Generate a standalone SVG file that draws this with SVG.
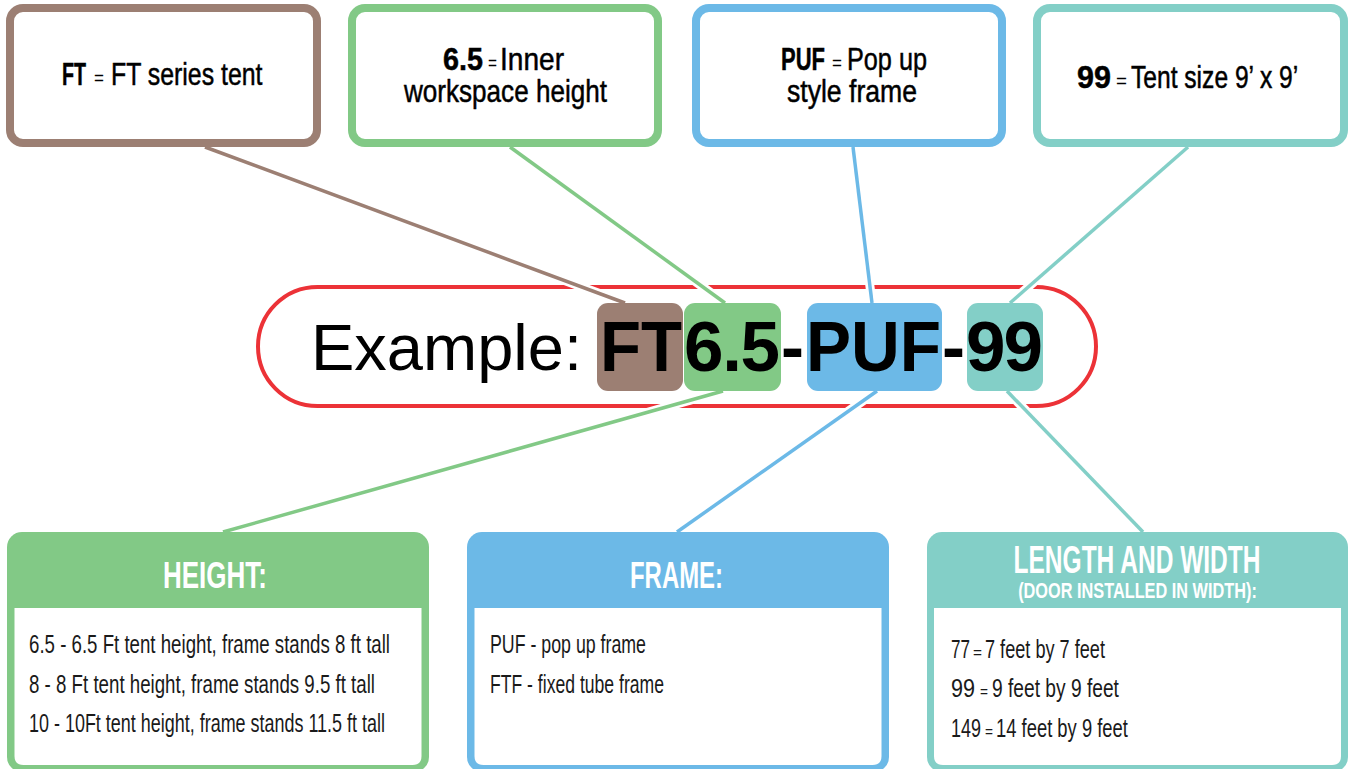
<svg xmlns="http://www.w3.org/2000/svg" width="1353" height="769" viewBox="0 0 1353 769">
<style>
.bx{fill:#fff;stroke-width:8}
.tt{font-family:"Liberation Sans",Arial,sans-serif;font-size:32px;fill:#000;stroke:#000;stroke-width:0.5}
.b{font-weight:700}
.eq{font-size:20px;stroke:none}
.code{font-family:"Liberation Sans",Arial,sans-serif;font-size:71px;font-weight:700;fill:#000}
.hd{font-family:"Liberation Sans",Arial,sans-serif;font-weight:700;fill:#fff;text-anchor:middle}
.bt{font-family:"Liberation Sans",Arial,sans-serif;font-size:25px;fill:#1a1a1a}
.be{font-family:"Liberation Sans",Arial,sans-serif;font-size:17px;fill:#1a1a1a}
.halo{stroke:#fff;stroke-width:9;fill:none}
.ln{stroke-width:3.5;fill:none}
</style>
<rect width="1353" height="769" fill="#fff"/>

<g id="pill">
<rect x="258" y="287" width="838" height="119" rx="59.5" fill="#fff" stroke="#EC3237" stroke-width="4"/>
</g>

<g id="connectors">
<g class="halo">
<line x1="205" y1="147" x2="625" y2="303"/>
<line x1="510" y1="147" x2="725" y2="303"/>
<line x1="853" y1="147" x2="872" y2="303"/>
<line x1="1188" y1="147" x2="1010" y2="303"/>
<line x1="723" y1="391" x2="223" y2="532"/>
<line x1="877" y1="391" x2="677" y2="532"/>
<line x1="1007" y1="391" x2="1143" y2="532"/>
</g>
<line class="ln" stroke="#9C7F73" x1="205" y1="147" x2="625" y2="303"/>
<line class="ln" stroke="#82C986" x1="510" y1="147" x2="725" y2="303"/>
<line class="ln" stroke="#6CB9E7" x1="853" y1="147" x2="872" y2="303"/>
<line class="ln" stroke="#83CFC7" x1="1188" y1="147" x2="1010" y2="303"/>
<line class="ln" stroke="#82C986" x1="723" y1="391" x2="223" y2="532"/>
<line class="ln" stroke="#6CB9E7" x1="877" y1="391" x2="677" y2="532"/>
<line class="ln" stroke="#83CFC7" x1="1007" y1="391" x2="1143" y2="532"/>
</g>

<g id="example">
<text x="311" y="370" font-family="'Liberation Sans',Arial,sans-serif" font-size="65" fill="#000">Example:</text>
<rect x="597" y="303" width="86" height="88" rx="11" fill="#9C7F73"/>
<rect x="684" y="303" width="97" height="88" rx="11" fill="#82C986"/>
<rect x="807" y="303" width="135" height="88" rx="11" fill="#6CB9E7"/>
<rect x="967" y="303" width="76" height="88" rx="11" fill="#83CFC7"/>
<text class="code" x="600" y="371" textLength="82" lengthAdjust="spacingAndGlyphs">FT</text>
<text class="code" x="684" y="371" textLength="96" lengthAdjust="spacing">6.5</text>
<text class="code" x="781" y="371" textLength="23" lengthAdjust="spacingAndGlyphs">-</text>
<text class="code" x="806" y="371" textLength="135" lengthAdjust="spacingAndGlyphs">PUF</text>
<text class="code" x="942" y="371" textLength="23" lengthAdjust="spacingAndGlyphs">-</text>
<text class="code" x="966" y="371" textLength="77" lengthAdjust="spacing">99</text>
</g>

<g id="box-ft">
<rect class="bx" x="10" y="8" width="307" height="135" rx="13" stroke="#9C7F73"/>
<text class="tt b" transform="translate(62 85) scale(0.614 1)">FT</text>
<text class="tt eq" transform="translate(94 85) scale(0.855 1)">=</text>
<text class="tt" transform="translate(111 85) scale(0.777 1)">FT series tent</text>
</g>

<g id="box-height-top">
<rect class="bx" x="352" y="8" width="306" height="135" rx="13" stroke="#82C986"/>
<text class="tt b" transform="translate(443 70) scale(0.899 1)">6.5</text>
<text class="tt eq" transform="translate(488 70) scale(0.77 1)">=</text>
<text class="tt" transform="translate(500 70) scale(0.878 1)">Inner</text>
<text class="tt" transform="translate(404 102) scale(0.815 1)">workspace height</text>
</g>

<g id="box-puf">
<rect class="bx" x="696" y="8" width="306" height="135" rx="13" stroke="#6CB9E7"/>
<text class="tt b" transform="translate(781 70) scale(0.6875 1)">PUF</text>
<text class="tt eq" transform="translate(832 70) scale(0.855 1)">=</text>
<text class="tt" transform="translate(847 70) scale(0.789 1)">Pop up</text>
<text class="tt" transform="translate(787 102) scale(0.831 1)">style frame</text>
</g>

<g id="box-size">
<rect class="bx" x="1037" y="8" width="307" height="135" rx="13" stroke="#83CFC7"/>
<text class="tt b" transform="translate(1077 88) scale(0.955 1)">99</text>
<text class="tt eq" transform="translate(1116 88) scale(0.94 1)">=</text>
<text class="tt" transform="translate(1131 88) scale(0.769 1)">Tent size 9’ x 9’</text>
</g>

<g id="panel-height">
<rect x="7" y="532" width="422" height="240" rx="15" fill="#82C986"/>
<path d="M14.5 608 H421.5 V756 Q421.5 765 412.5 765 H23.5 Q14.5 765 14.5 756 Z" fill="#fff"/>
<text class="hd" x="215" y="588" font-size="36" textLength="104" lengthAdjust="spacingAndGlyphs">HEIGHT:</text>
<text class="bt" x="29" y="653" textLength="361" lengthAdjust="spacingAndGlyphs">6.5 - 6.5 Ft tent height, frame stands 8 ft tall</text>
<text class="bt" x="29" y="693" textLength="346" lengthAdjust="spacingAndGlyphs">8 - 8 Ft tent height, frame stands 9.5 ft tall</text>
<text class="bt" x="29" y="732" textLength="356" lengthAdjust="spacingAndGlyphs">10 - 10Ft tent height, frame stands 11.5 ft tall</text>
</g>

<g id="panel-frame">
<rect x="467" y="532" width="422" height="240" rx="15" fill="#6CB9E7"/>
<path d="M474.5 608 H881.5 V756 Q881.5 765 872.5 765 H483.5 Q474.5 765 474.5 756 Z" fill="#fff"/>
<text class="hd" x="676.5" y="588" font-size="36" textLength="93" lengthAdjust="spacingAndGlyphs">FRAME:</text>
<text class="bt" x="490" y="653" textLength="156" lengthAdjust="spacingAndGlyphs">PUF - pop up frame</text>
<text class="bt" x="490" y="693" textLength="174" lengthAdjust="spacingAndGlyphs">FTF - fixed tube frame</text>
</g>

<g id="panel-size">
<rect x="927" y="532" width="421" height="240" rx="15" fill="#83CFC7"/>
<path d="M934 608 H1341 V756 Q1341 765 1332 765 H943 Q934 765 934 756 Z" fill="#fff"/>
<text class="hd" font-size="38" transform="translate(1137 573) scale(0.6455 1)">LENGTH AND WIDTH</text>
<text class="hd" font-size="22" transform="translate(1137.5 598) scale(0.741 1)">(DOOR INSTALLED IN WIDTH):</text>
<text class="bt" transform="translate(951 658) scale(0.683 1)">77</text>
<text class="be" transform="translate(973 658) scale(0.906 1)">=</text>
<text class="bt" transform="translate(985 658) scale(0.7255 1)">7 feet by 7 feet</text>
<text class="bt" transform="translate(951 697) scale(0.863 1)">99</text>
<text class="be" transform="translate(980 697) scale(0.806 1)">=</text>
<text class="bt" transform="translate(992 697) scale(0.768 1)">9 feet by 9 feet</text>
<text class="bt" transform="translate(951 737) scale(0.719 1)">149</text>
<text class="be" transform="translate(985 737) scale(0.806 1)">=</text>
<text class="bt" transform="translate(996 737) scale(0.736 1)">14 feet by 9 feet</text>
</g>
</svg>
